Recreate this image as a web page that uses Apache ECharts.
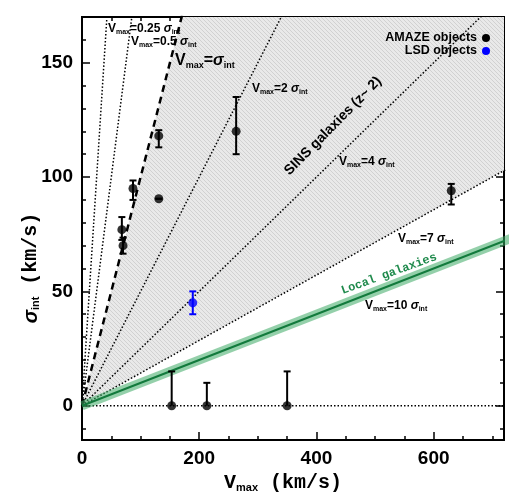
<!DOCTYPE html>
<html>
<head>
<meta charset="utf-8">
<script src="https://cdn.jsdelivr.net/npm/echarts@6/dist/echarts.min.js"></script>
<style>
  html, body { margin: 0; padding: 0; background: #fff; }
  #chart { width: 527px; height: 502px; }
</style>
</head>
<body>
<div id="chart"></div>
<script>
// axis ranges and ticks
const xRange = [0, 720]
const yRange = [-15, 170]
const xTicks = [0, 200, 400, 600]
const xMinorTicks = [50, 100, 150, 250, 300, 350, 450, 500, 550, 650, 700]
const yTicks = [0, 50, 100, 150]
const yMinorTicks = [-10, 10, 20, 30, 40, 60, 70, 80, 90, 110, 120, 130, 140, 160]

// AMAZE objects: Vmax, sigma, error low, error high
const amazeV = [68, 70, 87, 131, 131, 263, 630]
const amazeSigma = [77, 70, 95, 118, 90.5, 120, 94]
const amazeLo = [72.5, 66.5, 90, 113, 90.5, 110, 88]
const amazeHi = [82.5, 73.5, 98.5, 120.5, 90.5, 135, 97]

// LSD objects
const lsdV = [189]
const lsdSigma = [45]
const lsdLo = [40]
const lsdHi = [50]

// objects with sigma = 0 and upper limits
const limitV = [153, 213, 350]
const limitSigma = [0, 0, 0]
const limitHi = [15, 10, 15]

// Vmax = k * sigma reference lines
const ratioLines = [0.25, 0.5, 1, 2, 4, 7]
const sinsRange = [1, 7]
const localRatio = 10

const FONT = "Liberation Sans"
const MONO = "Liberation Mono"

const chart = echarts.init(document.getElementById("chart"))

// hatched fill for the SINS area
const pat = document.createElement("canvas")
pat.width = 4
pat.height = 4
const pctx = pat.getContext("2d")
pctx.fillStyle = "#e9e9e9"
pctx.fillRect(0, 0, 4, 4)
pctx.strokeStyle = "#cacaca"
pctx.lineWidth = 0.8
pctx.beginPath()
pctx.moveTo(0, 0)
pctx.lineTo(4, 4)
pctx.moveTo(-2, 2)
pctx.lineTo(2, 6)
pctx.moveTo(2, -2)
pctx.lineTo(6, 2)
pctx.stroke()

const lineEnd = (k) => [k * 1000, 1000]

const shadePoly = [
  [0, 0],
  [sinsRange[0] * yRange[1], yRange[1]],
  [xRange[1], yRange[1]],
  [xRange[1], xRange[1] / sinsRange[1]],
]

const GREEN = "#1f8a4c"

const labelRich = {
  v: { fontFamily: FONT, fontWeight: "bold", fontSize: 12, color: "#000" },
  s: { fontFamily: FONT, fontWeight: "bold", fontSize: 7, color: "#000", padding: [7, 0, 0, 0] },
  g: { fontFamily: FONT, fontWeight: "bold", fontStyle: "italic", fontSize: 12, color: "#000" },
  V: { fontFamily: FONT, fontWeight: "bold", fontSize: 16, color: "#000" },
  S: { fontFamily: FONT, fontWeight: "bold", fontSize: 9, color: "#000", padding: [9, 0, 0, 0] },
  G: { fontFamily: FONT, fontWeight: "bold", fontStyle: "italic", fontSize: 16, color: "#000" },
  gv: { fontFamily: FONT, fontWeight: "bold", fontSize: 12, color: GREEN },
  gs: { fontFamily: FONT, fontWeight: "bold", fontSize: 7, color: GREEN, padding: [7, 0, 0, 0] },
  gg: { fontFamily: FONT, fontWeight: "bold", fontStyle: "italic", fontSize: 12, color: GREEN },
  ya: { fontFamily: MONO, fontWeight: "bold", fontSize: 20, color: "#000" },
  yg: { fontFamily: FONT, fontWeight: "bold", fontStyle: "italic", fontSize: 20, color: "#000" },
  ys: { fontFamily: FONT, fontWeight: "bold", fontSize: 11, color: "#000", padding: [10, 0, 0, 0] },
}

function label(text, x, y, opts = {}) {
  return {
    type: "text",
    x: x,
    y: y,
    rotation: opts.rotation || 0,
    z: 100,
    style: {
      text: text,
      rich: labelRich,
      align: opts.align || "left",
      verticalAlign: "middle",
      font: opts.font || "bold 12px " + FONT,
      fill: opts.color || "#000",
    },
  }
}

function errBars(v, lo, hi, color, capBottom) {
  return {
    type: "custom",
    coordinateSystem: "cartesian2d",
    z: 5,
    data: v.map((x, i) => [x, lo[i], hi[i]]),
    renderItem: (params, api) => {
      const top = api.coord([api.value(0), api.value(2)])
      const bot = api.coord([api.value(0), api.value(1)])
      const w = 3.5
      const shapes = [
        { type: "line", shape: { x1: top[0], y1: top[1], x2: bot[0], y2: bot[1] }, style: { stroke: color, lineWidth: 2 } },
        { type: "line", shape: { x1: top[0] - w, y1: top[1], x2: top[0] + w, y2: top[1] }, style: { stroke: color, lineWidth: 2 } },
      ]
      if (capBottom) {
        shapes.push({ type: "line", shape: { x1: bot[0] - w, y1: bot[1], x2: bot[0] + w, y2: bot[1] }, style: { stroke: color, lineWidth: 2 } })
      }
      return { type: "group", children: shapes }
    },
  }
}

const axisLineStyle = { color: "#000", width: 2 }

function xAxisDef(position, values, len, showLabel) {
  return {
    type: "value",
    position: position,
    min: xRange[0],
    max: xRange[1],
    axisLine: { show: true, onZero: false, lineStyle: axisLineStyle },
    axisTick: { show: true, inside: true, length: len, customValues: values, lineStyle: { color: "#000", width: 1.5 } },
    axisLabel: showLabel
      ? { show: true, customValues: values, margin: 9, color: "#000", fontFamily: FONT, fontWeight: "bold", fontSize: 19 }
      : { show: false },
    splitLine: { show: false },
  }
}

function yAxisDef(position, values, len, showLabel) {
  return {
    type: "value",
    position: position,
    min: yRange[0],
    max: yRange[1],
    axisLine: { show: true, onZero: false, lineStyle: axisLineStyle },
    axisTick: { show: true, inside: true, length: len, customValues: values, lineStyle: { color: "#000", width: 1.5 } },
    axisLabel: showLabel
      ? { show: true, customValues: values, margin: 9, color: "#000", fontFamily: FONT, fontWeight: "bold", fontSize: 19 }
      : { show: false },
    splitLine: { show: false },
  }
}

const xMain = xAxisDef("bottom", xTicks, 8, true)
xMain.name = "{v|V}{s|max}{v| (km/s)}"
xMain.nameLocation = "middle"
xMain.nameGap = 23
xMain.nameTextStyle = {
  padding: [0, 20, 0, 0],
  rich: {
    v: { fontFamily: MONO, fontWeight: "bold", fontSize: 20, color: "#000" },
    s: { fontFamily: FONT, fontWeight: "bold", fontSize: 11, color: "#000", padding: [10, 0, 0, 0] },
  },
}

const series = [
  {
    type: "custom",
    coordinateSystem: "cartesian2d",
    clip: true,
    z: 1,
    silent: true,
    data: [[0, 0]],
    renderItem: (params, api) => ({
      type: "polygon",
      shape: { points: shadePoly.map((p) => api.coord(p)) },
      style: { fill: { type: "pattern", image: pat, repeat: "repeat" } },
    }),
  },
  {
    type: "line",
    z: 2,
    symbol: "none",
    silent: true,
    data: [[xRange[0], 0], [xRange[1], 0]],
    lineStyle: { color: "#000", width: 1.5, type: [1.5, 2] },
  },
]

ratioLines.forEach((k) => {
  series.push({
    type: "line",
    z: 3,
    symbol: "none",
    silent: true,
    clip: true,
    data: [[0, 0], lineEnd(k)],
    lineStyle: k === 1
      ? { color: "#000", width: 2.5, type: [7, 5] }
      : { color: "#000", width: 1.5, type: [1.5, 2] },
  })
})

// local galaxies band and line
series.push({
  type: "line",
  z: 4,
  symbol: "none",
  silent: true,
  clip: true,
  data: [[0, 0], lineEnd(localRatio)],
  lineStyle: { color: "rgba(60,170,100,0.55)", width: 9, cap: "butt" },
})
series.push({
  type: "line",
  z: 4,
  symbol: "none",
  silent: true,
  clip: true,
  data: [[0, 0], lineEnd(localRatio)],
  lineStyle: { color: "#127a3c", width: 2 },
})

series.push(errBars(amazeV, amazeLo, amazeHi, "#000", true))
series.push(errBars(lsdV, lsdLo, lsdHi, "#0000ff", true))
series.push(errBars(limitV, limitSigma, limitHi, "#000", false))

series.push({
  type: "scatter",
  z: 6,
  symbolSize: 9,
  itemStyle: { color: "#000" },
  data: amazeV.map((v, i) => [v, amazeSigma[i]]).concat(limitV.map((v, i) => [v, limitSigma[i]])),
})
series.push({
  type: "scatter",
  z: 6,
  symbolSize: 9,
  itemStyle: { color: "#0000ff" },
  data: lsdV.map((v, i) => [v, lsdSigma[i]]),
})

chart.setOption({
  animation: false,
  backgroundColor: "#fff",
  grid: { left: 82, right: 23, top: 17, bottom: 62 },
  xAxis: [
    xMain,
    xAxisDef("bottom", xMinorTicks, 4, false),
    xAxisDef("top", xTicks, 8, false),
    xAxisDef("top", xMinorTicks, 4, false),
  ],
  yAxis: [
    yAxisDef("left", yTicks, 8, true),
    yAxisDef("left", yMinorTicks, 4, false),
    yAxisDef("right", yTicks, 8, false),
    yAxisDef("right", yMinorTicks, 4, false),
  ],
  series: series,
  graphic: [
    label("{yg|σ}{ys|int}{ya| (km/s)}", 31, 268, { align: "center", rotation: Math.PI / 2 }),
    label("{v|V}{s|max}{v|=0.25 }{g|σ}{s|int}", 108, 29),
    label("{v|V}{s|max}{v|=0.5 }{g|σ}{s|int}", 131, 42),
    label("{V|V}{S|max}{V|=}{G|σ}{S|int}", 175, 61),
    label("{v|V}{s|max}{v|=2 }{g|σ}{s|int}", 252, 89),
    label("{v|V}{s|max}{v|=4 }{g|σ}{s|int}", 339, 162),
    label("{v|V}{s|max}{v|=7 }{g|σ}{s|int}", 398, 239),
    label("SINS galaxies (z~ 2)", 333, 126, { align: "center", rotation: 45.5 * Math.PI / 180, font: "bold 14px " + FONT }),
    label("Local galaxies", 389, 274, { align: "center", rotation: 20 * Math.PI / 180, font: "bold 12px " + MONO, color: GREEN }),
    label("{gv|V}{gs|max}{gv|=10 }{gg|σ}{gs|int}", 365, 306),
    label("AMAZE objects", 477, 38, { align: "right", font: "bold 12.5px " + FONT }),
    label("LSD objects", 477, 51, { align: "right", font: "bold 12.5px " + FONT }),
    { type: "circle", z: 100, shape: { cx: 486, cy: 38, r: 4 }, style: { fill: "#000" } },
    { type: "circle", z: 100, shape: { cx: 486, cy: 51, r: 4 }, style: { fill: "#0000ff" } },
  ],
})
</script>
</body>
</html>
